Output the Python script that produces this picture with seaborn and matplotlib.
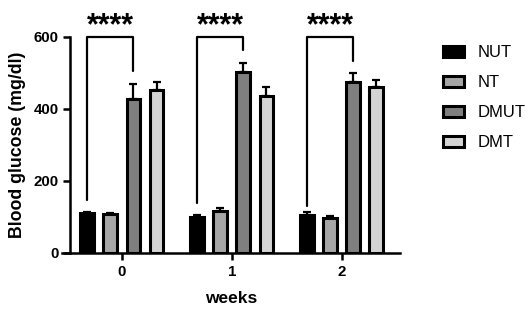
import matplotlib
matplotlib.use('Agg')
import matplotlib.pyplot as plt
import seaborn as sns
import numpy as np
import pandas as pd

# data (mean and SEM, mg/dl)
weeks = ['0', '1', '2']
groups = ['NUT', 'NT', 'DMUT', 'DMT']
nut_mean = [110, 101, 105]
nut_sem = [4, 5, 8]
nt_mean = [107, 117, 98]
nt_sem = [5, 7, 4]
dmut_mean = [428, 503, 475]
dmut_sem = [41, 25, 25]
dmt_mean = [453, 436, 461]
dmt_sem = [22, 25, 20]
colors = ['#000000', '#a6a6a6', '#7f7f7f', '#d4d4d4']

# significance brackets NUT vs DMUT per week
bracket_left_end = [147, 140, 130]
bracket_right_end = [505, 564, 533]
bracket_top = 600
sig_label = '****'

means = [nut_mean, nt_mean, dmut_mean, dmt_mean]
sems = [nut_sem, nt_sem, dmut_sem, dmt_sem]

df = pd.DataFrame({
    'week': [w for g in groups for w in weeks],
    'group': [g for g in groups for w in weeks],
    'glucose': [v for m in means for v in m],
})

sns.set_style('ticks', {'text.color': 'black', 'xtick.color': 'black', 'ytick.color': 'black',
                        'axes.labelcolor': 'black', 'axes.edgecolor': 'black'})
plt.rcParams['font.family'] = ['Liberation Sans', 'DejaVu Sans']

fig = plt.figure(figsize=(5.25, 3.15), dpi=100)
ax = fig.add_axes([62 / 525, 1 - 253 / 315, (400 - 62) / 525, (253 - 37) / 315])

sns.barplot(data=df, x='week', y='glucose', hue='group', order=weeks, hue_order=groups,
            palette=colors, width=0.84, gap=0.4, errorbar=None,
            edgecolor='black', linewidth=2.2, saturation=1, legend=False, ax=ax)

# upper-only error bars
for cont, sem in zip(ax.containers, sems):
    xs = [p.get_x() + p.get_width() / 2 for p in cont.patches]
    ys = [p.get_height() for p in cont.patches]
    ax.errorbar(xs, ys, yerr=[np.zeros(len(sem)), sem], fmt='none', ecolor='black',
                elinewidth=1.6, capsize=3, capthick=1.6, zorder=1)

# brackets
nut_bars = ax.containers[0].patches
dmut_bars = ax.containers[2].patches
for i in range(len(weeks)):
    x1 = nut_bars[i].get_x() + nut_bars[i].get_width() / 2
    x2 = dmut_bars[i].get_x() + dmut_bars[i].get_width() / 2
    ax.plot([x1, x1, x2, x2], [bracket_left_end[i], bracket_top, bracket_top, bracket_right_end[i]],
            color='black', lw=1.6, clip_on=False)
    ax.text((x1 + x2) / 2, bracket_top - 12, sig_label, ha='center', va='bottom',
            fontsize=22, fontweight='bold', clip_on=False)

ax.set_xlim(-0.545, 2.53)
ax.set_ylim(0, 600)
ax.set_yticks([0, 200, 400, 600])
ax.spines['left'].set_position(('data', -0.47))
ax.spines['left'].set_bounds(0, 600)
sns.despine(ax=ax)
for s in ['left', 'bottom']:
    ax.spines[s].set_linewidth(1.8)
ax.tick_params(width=1.8, length=5, labelsize=10.8)
for lab in ax.get_xticklabels() + ax.get_yticklabels():
    lab.set_fontweight('bold')

ax.set_xlabel('weeks', fontsize=12.5, fontweight='bold', labelpad=9)
ax.set_ylabel('Blood glucose (mg/dl)', fontsize=12.8, fontweight='bold', labelpad=5)

ax.legend(ax.containers, groups, loc='upper left', bbox_to_anchor=(428 / 525, 1 - 30 / 315),
          bbox_transform=fig.transFigure, frameon=False, fontsize=12,
          handlelength=1.25, handleheight=0.65, labelspacing=0.9, handletextpad=0.85)

fig.savefig('out.png', dpi=100)
